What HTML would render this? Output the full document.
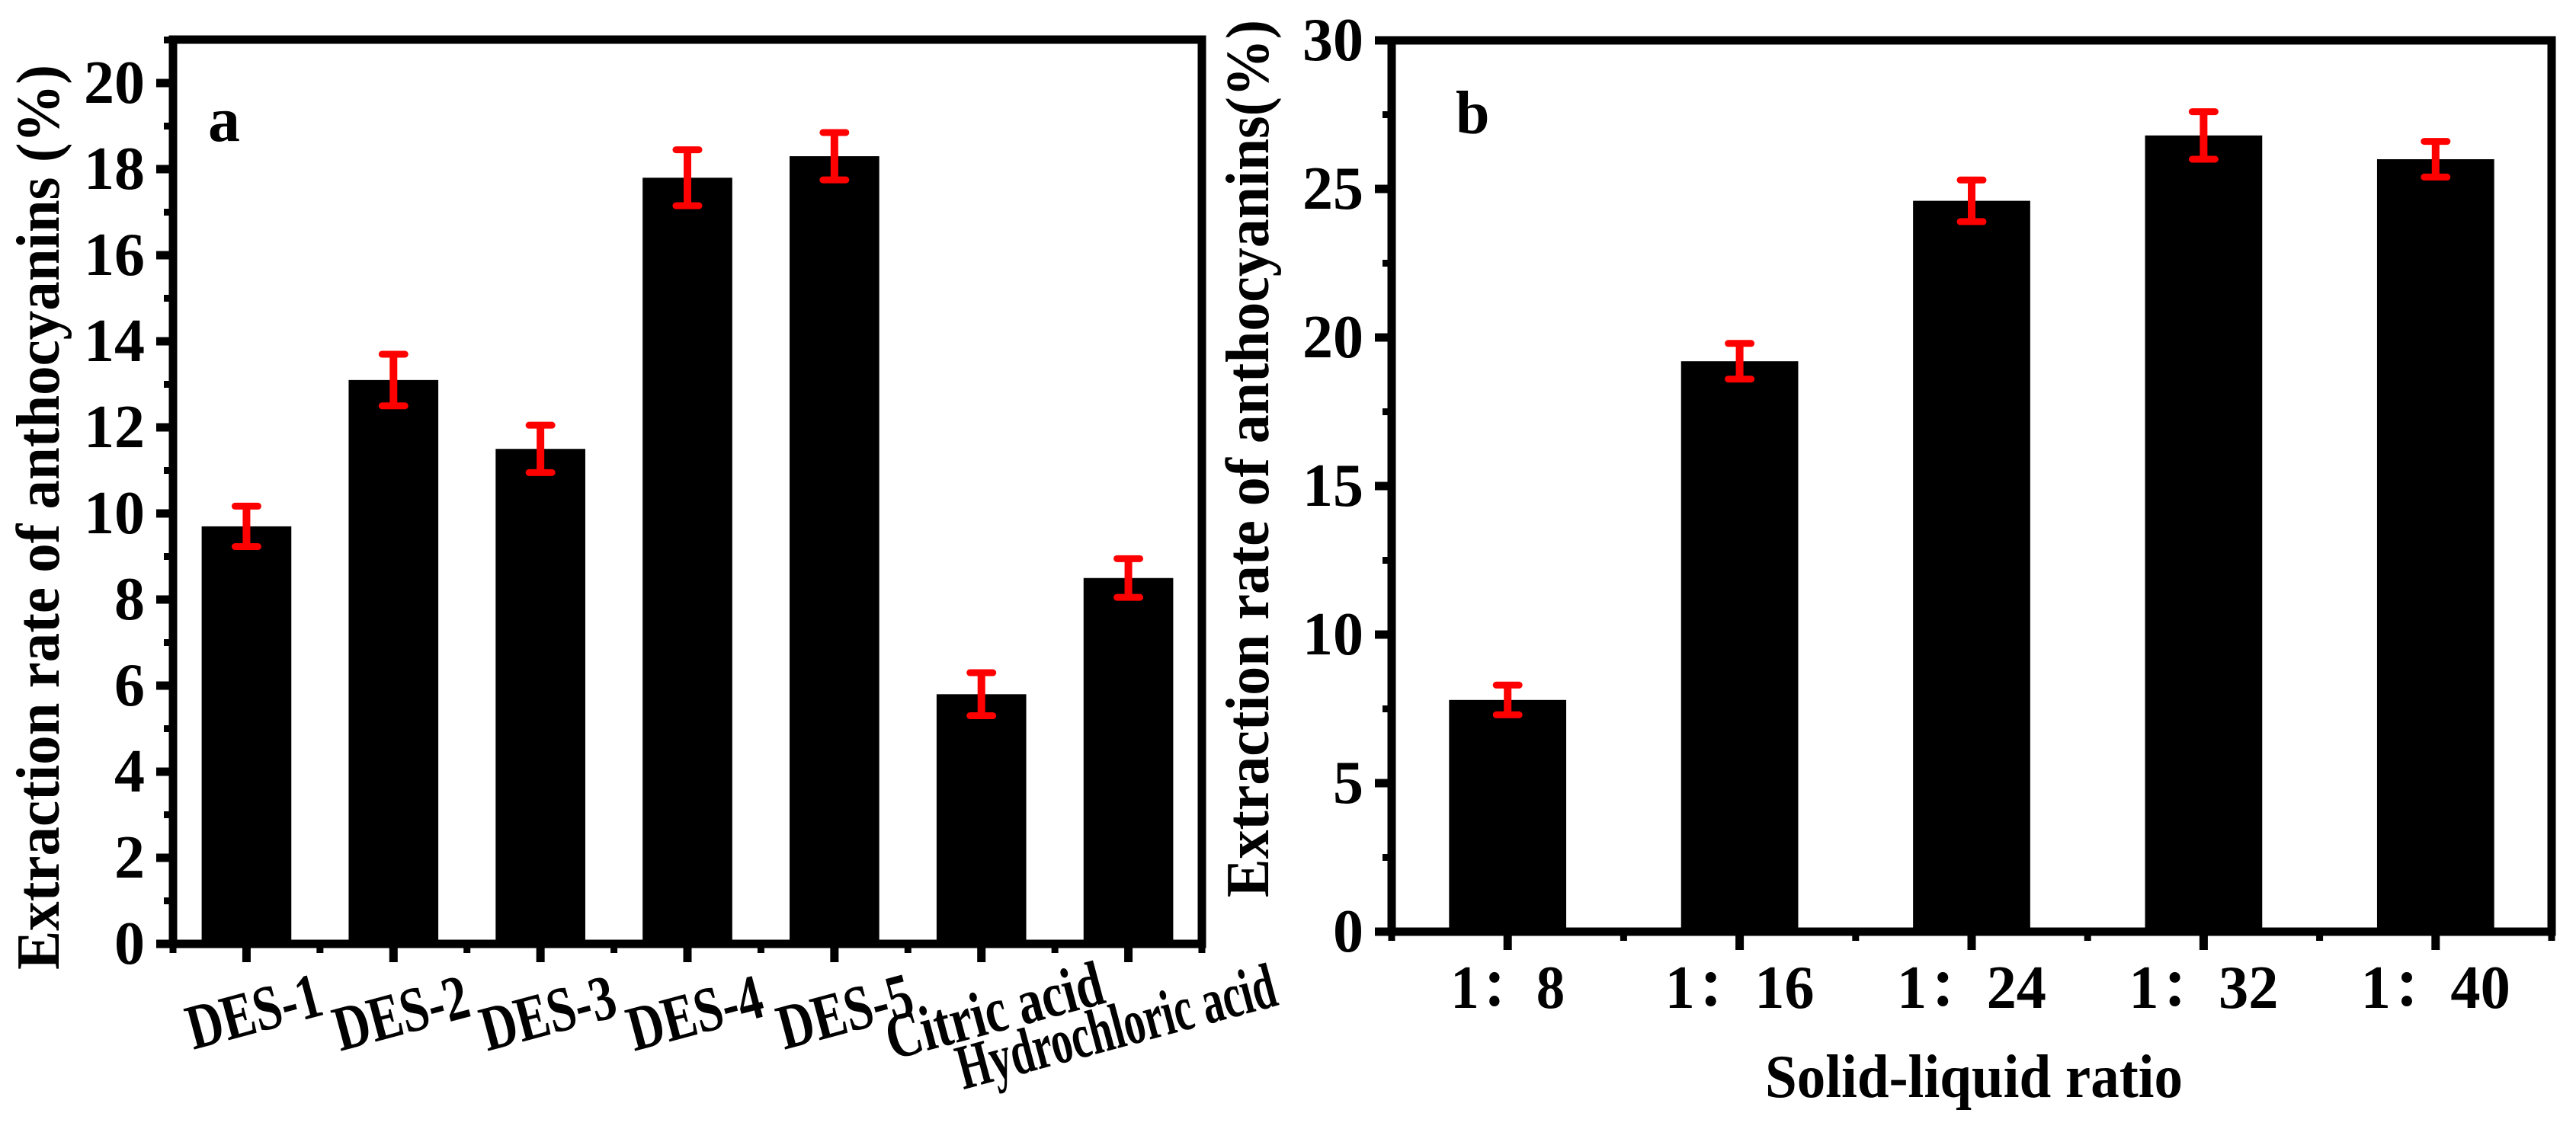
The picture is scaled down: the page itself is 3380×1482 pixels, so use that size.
<!DOCTYPE html>
<html><head><meta charset="utf-8"><style>
html,body{margin:0;padding:0;background:#fff;}
svg{display:block;font-family:"Liberation Serif","Noto Serif CJK SC",serif;font-weight:bold;}
</style></head><body>
<svg id="chart" width="3380" height="1482" viewBox="0 0 3380 1482" xmlns="http://www.w3.org/2000/svg">
<g id="pa"></g>
<g id="pb"></g>
</svg>
<script>
const catsA = ["DES-1","DES-2","DES-3","DES-4","DES-5","Citric acid","Hydrochloric acid"];
const valsA = [9.7,13.1,11.5,17.8,18.3,5.8,8.5];
const errsA = [0.47,0.6,0.55,0.65,0.55,0.5,0.45];
const ticksA = [0,2,4,6,8,10,12,14,16,18,20];
const catsB = ["1：8","1：16","1：24","1：32","1：40"];
const valsB = [7.8,19.2,24.6,26.8,26.0];
const errsB = [0.5,0.6,0.7,0.8,0.6];
const ticksB = [0,5,10,15,20,25,30];

const NS="http://www.w3.org/2000/svg";
function mk(tag,attrs,parent,txt){const e=document.createElementNS(NS,tag);for(const k in attrs)e.setAttribute(k,attrs[k]);if(txt!==undefined)e.textContent=txt;parent.appendChild(e);return e;}

function panel(g,o){
  const {cats,vals,errs,ticks,x0,x1,yTop,y0,perUnit,minorStep,barFrac} = o;
  const band=(x1-x0)/cats.length;
  const xc=i=>x0+band*(i+0.5);
  const ys=v=>y0-v*perUnit;
  vals.forEach((v,i)=>{
    const w=band*barFrac;
    const r=mk('rect',{x:xc(i)-w/2,y:ys(v),width:w,height:y0-ys(v),fill:'#000'},g);
    
    
  });
  vals.forEach((v,i)=>{
    const e=errs[i];const eg=mk('g',{},g);
    
    
    const cx=xc(i);
    mk('line',{x1:cx,x2:cx,y1:ys(v+e),y2:ys(v-e),stroke:'#f00','stroke-width':10},eg);
    mk('line',{x1:cx-15,x2:cx+15,y1:ys(v+e),y2:ys(v+e),stroke:'#f00','stroke-width':9,'stroke-linecap':'round'},eg);
    mk('line',{x1:cx-15,x2:cx+15,y1:ys(v-e),y2:ys(v-e),stroke:'#f00','stroke-width':9,'stroke-linecap':'round'},eg);
  });
  const fr=mk('rect',{x:x0,y:yTop,width:x1-x0,height:y0-yTop,fill:'none',stroke:'#000','stroke-width':11},g);
  
  
  const maxV=(y0-yTop)/perUnit;
  for(let v=0;v<=maxV+1e-6;v+=minorStep){
    const major=ticks.some(t=>Math.abs(t-v)<1e-6);
    mk('line',{x1:x0-(major?22:12),x2:x0,y1:ys(v),y2:ys(v),stroke:'#000','stroke-width':major?11:9},g);
  }
  ticks.forEach(t=>{
    const tl=mk('text',{x:x0-37,y:ys(t),'text-anchor':'end','dominant-baseline':'central','font-size':80},g,String(t));
    
    
  });
  cats.forEach((c,i)=>{
    mk('line',{x1:xc(i),x2:xc(i),y1:y0,y2:y0+24,stroke:'#000','stroke-width':11},g);
  });
  for(let i=0;i<=cats.length;i++){
    mk('line',{x1:x0+band*i,x2:x0+band*i,y1:y0,y2:y0+12,stroke:'#000','stroke-width':9},g);
  }
  return {xc,ys,band};
}

const pa=document.getElementById('pa');
const A=panel(pa,{cats:catsA,vals:valsA,errs:errsA,ticks:ticksA,x0:227,x1:1577,yTop:52,y0:1239,perUnit:56.5,minorStep:1,barFrac:0.61});
const lenA=[180,180,180,180,180,292,430];
const dxA=[10,10,10,10,14,17,-16];
const dyA=[1328,1330,1330,1330,1328,1327,1348];
catsA.forEach((c,i)=>{
  const cx=A.xc(i)+dxA[i], cy=dyA[i];
  const t=mk('text',{x:cx,y:cy,'text-anchor':'middle','dominant-baseline':'central','font-size':84,textLength:lenA[i],lengthAdjust:'spacingAndGlyphs',transform:`rotate(-15 ${cx} ${cy})`},pa,c);
  
  
});

const pb=document.getElementById('pb');
const B=panel(pb,{cats:catsB,vals:valsB,errs:errsB,ticks:ticksB,x0:1826,x1:3348,yTop:53,y0:1223,perUnit:39,minorStep:2.5,barFrac:0.505});
catsB.forEach((c,i)=>{
  const t=mk('text',{x:B.xc(i),y:1323,'text-anchor':'middle','font-size':80,textLength:c.length>3?196:150,lengthAdjust:'spacingAndGlyphs'},pb,c);
  
  
});
</script>
<script>
(function(){
const svg=document.getElementById('chart');const NS="http://www.w3.org/2000/svg";
function T(attrs,txt,name){const e=document.createElementNS(NS,'text');for(const k in attrs)e.setAttribute(k,attrs[k]);e.textContent=txt;


svg.appendChild(e);}
T({x:0,y:0,'text-anchor':'middle','font-size':80,textLength:1188,lengthAdjust:'spacingAndGlyphs',transform:'translate(77 679) rotate(-90)'},'Extraction rate of anthocyanins (%)','y-axis-title-a');
T({x:0,y:0,'text-anchor':'middle','font-size':80,textLength:1152,lengthAdjust:'spacingAndGlyphs',transform:'translate(1664 602) rotate(-90)'},'Extraction rate of anthocyanins(%)','y-axis-title-b');
T({x:2590,y:1440,'text-anchor':'middle','font-size':80,textLength:548,lengthAdjust:'spacingAndGlyphs'},'Solid-liquid ratio','x-axis-title-b');
T({x:273,y:185,'font-size':84},'a','panel-label-a');
T({x:1910,y:175,'font-size':80},'b','panel-label-b');
})();
</script>
</body></html>
